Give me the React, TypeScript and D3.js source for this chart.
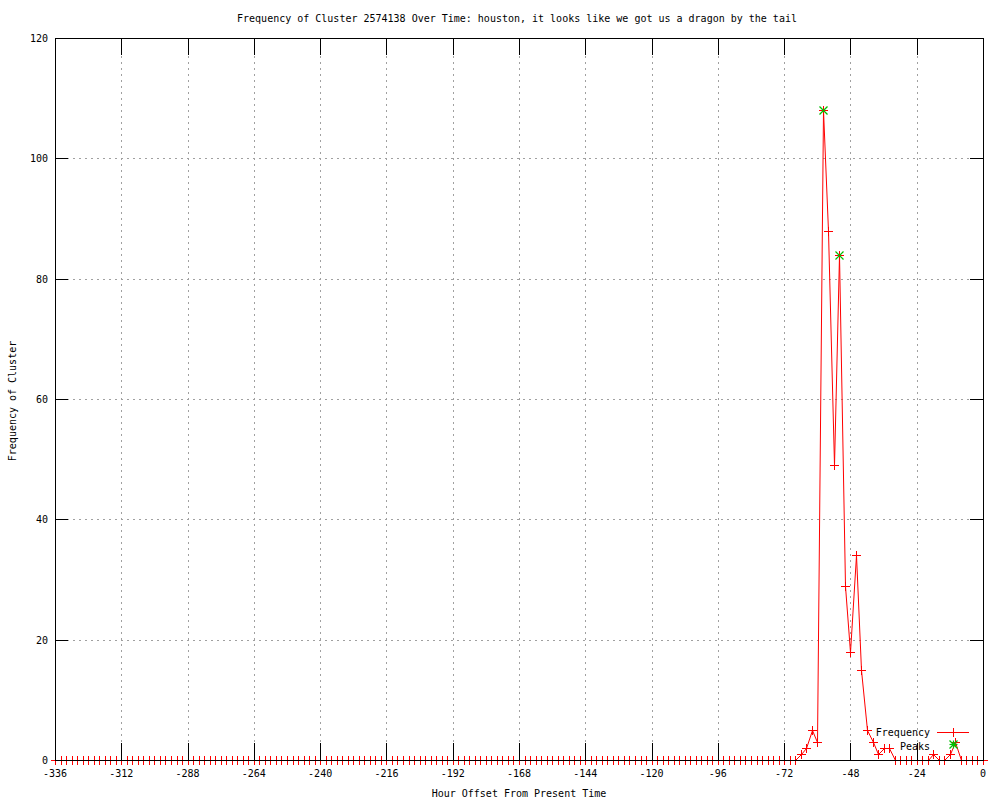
import React from "react";
import * as d3 from "d3";

const TITLE = "Frequency of Cluster 2574138 Over Time: houston, it looks like we got us a dragon by the tail";
const X_LABEL = "Hour Offset From Present Time";
const Y_LABEL = "Frequency of Cluster";

// hour offsets, every 2 hours from -336 to 0
const hours: number[] = d3.range(-336, 1, 2);

// frequency per 2-hour bucket (-336 ... 0)
const frequency: number[] = [
  0, 0, 0, 0, 0, 0, 0, 0, 0, 0, 0, 0, 0, 0, 0, 0, 0, 0, 0, 0,
  0, 0, 0, 0, 0, 0, 0, 0, 0, 0, 0, 0, 0, 0, 0, 0, 0, 0, 0, 0,
  0, 0, 0, 0, 0, 0, 0, 0, 0, 0, 0, 0, 0, 0, 0, 0, 0, 0, 0, 0,
  0, 0, 0, 0, 0, 0, 0, 0, 0, 0, 0, 0, 0, 0, 0, 0, 0, 0, 0, 0,
  0, 0, 0, 0, 0, 0, 0, 0, 0, 0, 0, 0, 0, 0, 0, 0, 0, 0, 0, 0,
  0, 0, 0, 0, 0, 0, 0, 0, 0, 0, 0, 0, 0, 0, 0, 0, 0, 0, 0, 0,
  0, 0, 0, 0, 0, 0, 0, 0, 0, 0, 0, 0, 0, 0,
  // -68 .. 0
  0, 1, 2, 5, 3, 108, 88, 49, 84, 29, 18, 34, 15, 5, 3, 1, 2, 2,
  0, 0, 0, 0, 0, 0, 0, 1, 0, 0, 1, 3, 0, 0, 0, 0, 0,
];

const peakHours: number[] = [-58, -52];
const peakValues: number[] = [108, 84];

const xTicks: number[] = [-336, -312, -288, -264, -240, -216, -192, -168, -144, -120, -96, -72, -48, -24, 0];
const yTicks: number[] = [0, 20, 40, 60, 80, 100, 120];

const W = 1000;
const H = 800;
const M = { left: 55, right: 983, top: 38, bottom: 760 };
const FONT = "'DejaVu Sans Mono', 'Liberation Mono', monospace";
const FS = 10;
const RED = "#ff0000";
const GREEN = "#00c000";

const px = (v: number) => Math.round(v) + 0.5;

function Plus({ x, y, s = 4 }: { x: number; y: number; s?: number }) {
  const cx = px(x);
  const cy = px(y);
  return (
    <g stroke={RED} strokeWidth={1} shapeRendering="crispEdges">
      <line x1={cx - s - 0.5} x2={cx + s + 0.5} y1={cy} y2={cy} />
      <line x1={cx} x2={cx} y1={cy - s - 0.5} y2={cy + s + 0.5} />
    </g>
  );
}

function StarDiag({ x, y, s = 4 }: { x: number; y: number; s?: number }) {
  const cx = px(x);
  const cy = px(y);
  return (
    <g stroke={GREEN} strokeWidth={1.2}>
      <line x1={cx - s} x2={cx + s} y1={cy - s} y2={cy + s} />
      <line x1={cx - s} x2={cx + s} y1={cy + s} y2={cy - s} />
    </g>
  );
}

export default function App() {
  const x = d3.scaleLinear().domain([-336, 0]).range([M.left, M.right]);
  const y = d3.scaleLinear().domain([0, 120]).range([M.bottom, M.top]);

  const pts = hours.map((h, i) => [h, frequency[i]] as [number, number]);
  const line = d3
    .line<[number, number]>()
    .x((d) => px(x(d[0])))
    .y((d) => px(y(d[1])));

  const xTickLen = 17;
  const yTickLen = 13;

  return (
    <svg
      width={W}
      height={H}
      style={{ position: "absolute", left: 0, top: 0, background: "#fff" }}
      fontFamily={FONT}
      fontSize={FS}
    >
      <rect x={0} y={0} width={W} height={H} fill="#fff" />

      {/* grid */}
      <g stroke="#a0a0a0" strokeWidth={1} strokeDasharray="2,4" shapeRendering="crispEdges">
        {xTicks.slice(1, -1).map((t) => (
          <line key={"gx" + t} x1={px(x(t))} x2={px(x(t))} y1={M.top} y2={M.bottom} />
        ))}
        {yTicks.slice(1, -1).map((t) => (
          <line key={"gy" + t} x1={M.left} x2={M.right} y1={px(y(t))} y2={px(y(t))} />
        ))}
      </g>

      {/* data line */}
      <path d={line(pts) || ""} fill="none" stroke={RED} strokeWidth={1} />
      {pts.map((p, i) => (
        <Plus key={"p" + i} x={x(p[0])} y={y(p[1])} />
      ))}

      {/* peaks */}
      {peakHours.map((h, i) => (
        <g key={"pk" + i}>
          <Plus x={x(h)} y={y(peakValues[i])} />
          <StarDiag x={x(h)} y={y(peakValues[i])} />
        </g>
      ))}

      {/* ticks */}
      <g stroke="#000" strokeWidth={1} shapeRendering="crispEdges">
        {xTicks.map((t) => (
          <g key={"tx" + t}>
            <line x1={px(x(t))} x2={px(x(t))} y1={M.bottom} y2={M.bottom - xTickLen} />
            <line x1={px(x(t))} x2={px(x(t))} y1={M.top} y2={M.top + xTickLen} />
          </g>
        ))}
        {yTicks.map((t) => (
          <g key={"ty" + t}>
            <line x1={M.left} x2={M.left + yTickLen} y1={px(y(t))} y2={px(y(t))} />
            <line x1={M.right} x2={M.right - yTickLen} y1={px(y(t))} y2={px(y(t))} />
          </g>
        ))}
      </g>

      {/* border */}
      <rect
        x={M.left + 0.5}
        y={M.top + 0.5}
        width={M.right - M.left}
        height={M.bottom - M.top}
        fill="none"
        stroke="#000"
        strokeWidth={1}
        shapeRendering="crispEdges"
      />

      {/* tick labels */}
      <g fill="#000">
        {xTicks.map((t) => (
          <text key={"lx" + t} x={x(t)} y={777} textAnchor="middle">
            {t}
          </text>
        ))}
        {yTicks.map((t) => (
          <text key={"ly" + t} x={48} y={y(t) + 4} textAnchor="end">
            {t}
          </text>
        ))}
      </g>

      {/* titles */}
      <text x={517} y={22} textAnchor="middle">{TITLE}</text>
      <text x={519} y={797} textAnchor="middle">{X_LABEL}</text>
      <text transform={`translate(16,401) rotate(-90)`} textAnchor="middle">{Y_LABEL}</text>

      {/* legend */}
      <text x={930} y={736} textAnchor="end">Frequency</text>
      <line x1={937} x2={969} y1={732.5} y2={732.5} stroke={RED} strokeWidth={1} shapeRendering="crispEdges" />
      <Plus x={953} y={732} />
      <text x={930} y={750} textAnchor="end">Peaks</text>
      <g stroke={GREEN} strokeWidth={1.2}>
        <line x1={949.5} x2={957.5} y1={744.5} y2={744.5} />
        <line x1={953.5} x2={953.5} y1={740.5} y2={748.5} />
      </g>
      <StarDiag x={953} y={744} />
    </svg>
  );
}
